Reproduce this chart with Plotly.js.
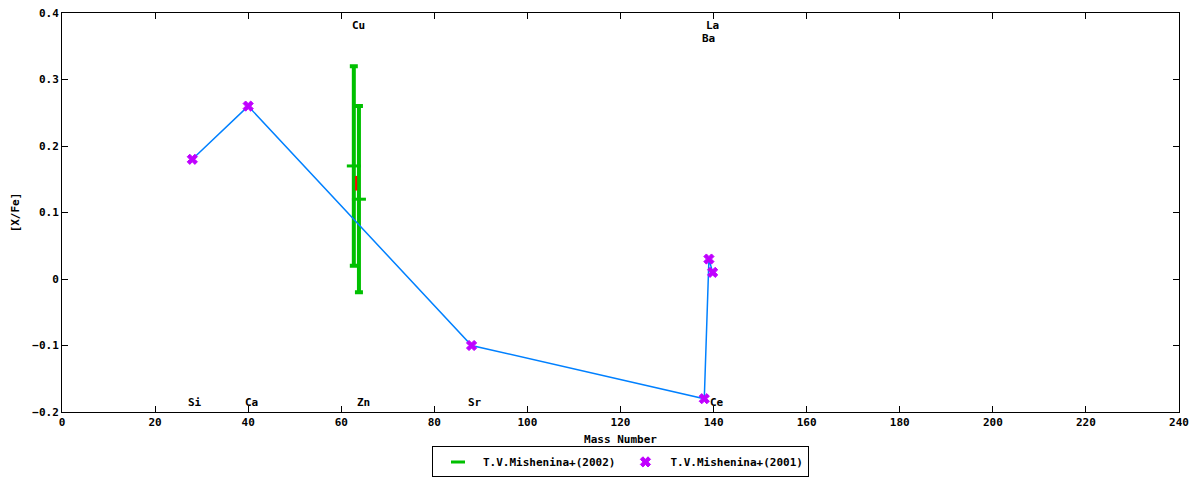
<!DOCTYPE html>
<html>
<head>
<meta charset="utf-8">
<script src="https://cdn.plot.ly/plotly-3.0.1.min.js"></script>
<style>
  body { margin: 0; background: #fff; }
  #chart { width: 1200px; height: 480px; }
</style>
</head>
<body>
<div id="chart"></div>
<script>
// T.V.Mishenina+(2002): values with error bars
var mass2002 = [62.7, 63.8];
var xfe2002 = [0.17, 0.12];
var err2002 = [0.15, 0.14];

// small red segment near the green bars
var redX = [63.2, 63.2];
var redY = [0.155, 0.133];

// T.V.Mishenina+(2001)
var mass2001 = [28, 40, 88, 138, 139, 139.8];
var xfe2001 = [0.18, 0.26, -0.10, -0.18, 0.03, 0.01];

// element labels
var labelText = ['Si', 'Ca', 'Cu', 'Zn', 'Sr', 'Ba', 'La', 'Ce'];
var labelX = [28.6, 40.8, 63.6, 64.7, 88.7, 138.8, 139.7, 140.7];
var labelY = [-0.186, -0.186, 0.381, -0.186, -0.186, 0.362, 0.381, -0.186];

var tickFont = {family: 'DejaVu Sans Mono', size: 11, color: '#000', weight: 'bold'};

var green = {
    x: mass2002, y: xfe2002,
    name: 'T.V.Mishenina+(2002)',
    type: 'scatter', mode: 'markers',
    marker: {symbol: 'line-ew', size: 10, color: '#00c000', line: {color: '#00c000', width: 3}},
    error_y: {type: 'data', array: err2002, visible: true, color: '#00c000', thickness: 4, width: 4}
};

var red = {
    x: redX, y: redY,
    type: 'scatter', mode: 'lines',
    line: {color: '#ff0000', width: 2},
    showlegend: false, hoverinfo: 'skip'
};

var blue = {
    x: mass2001, y: xfe2001,
    type: 'scatter', mode: 'lines',
    line: {color: '#0080ff', width: 1.5},
    showlegend: false
};

var magenta = {
    x: mass2001, y: xfe2001,
    name: 'T.V.Mishenina+(2001)',
    type: 'scatter', mode: 'markers',
    marker: {symbol: 'x', size: 9, color: '#c000ff', line: {color: '#c000ff', width: 1}}
};

var annotations = labelText.map(function (t, i) {
    return {
        x: labelX[i], y: labelY[i], text: t, showarrow: false,
        xanchor: 'center', yanchor: 'middle',
        font: tickFont
    };
});

var layout = {
    width: 1200,
    height: 480,
    margin: {l: 62, r: 21, t: 13, b: 68, autoexpand: false},
    paper_bgcolor: '#fff',
    plot_bgcolor: '#fff',
    showlegend: true,
    legend: {
        orientation: 'h', x: 0.5, xanchor: 'center', y: -0.125, yanchor: 'middle',
        bordercolor: '#000', borderwidth: 1, font: tickFont,
        itemwidth: 40, tracegroupgap: 0
    },
    xaxis: {
        range: [0, 240], dtick: 20, tick0: 0,
        ticks: 'inside', ticklen: 6, tickcolor: '#000',
        showline: true, linecolor: '#000', linewidth: 1, mirror: 'ticks',
        showgrid: false, zeroline: false,
        tickfont: tickFont,
        title: {text: 'Mass Number', font: tickFont, standoff: 7}
    },
    yaxis: {
        range: [-0.2, 0.4], dtick: 0.1, tick0: 0,
        ticks: 'inside', ticklen: 6, tickcolor: '#000',
        showline: true, linecolor: '#000', linewidth: 1, mirror: 'ticks',
        showgrid: false, zeroline: false,
        tickfont: tickFont,
        title: {text: '[X/Fe]', font: tickFont, standoff: 10}
    },
    annotations: annotations
};

Plotly.newPlot('chart', [green, red, blue, magenta], layout, {displaylogo: false, staticPlot: true});
</script>
</body>
</html>
